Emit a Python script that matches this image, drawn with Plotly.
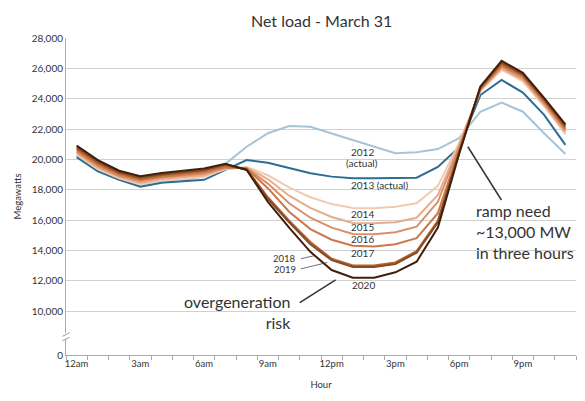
import plotly.graph_objects as go

hours = list(range(24))
hour_ticks = [0, 3, 6, 9, 12, 15, 18, 21]
hour_labels = ["12am", "3am", "6am", "9am", "12pm", "3pm", "6pm", "9pm"]

y_ticks = [7100, 10000, 12000, 14000, 16000, 18000, 20000, 22000, 24000, 26000, 28000]
y_labels = ["0", "10,000", "12,000", "14,000", "16,000", "18,000", "20,000",
            "22,000", "24,000", "26,000", "28,000"]

# net load, MW (hour 0 = 12am)
load_2012 = [20200, 19250, 18700, 18250, 18500, 18600, 18900, 19700, 20830, 21720, 22200, 22150,
             21700, 21250, 20830, 20400, 20460, 20680, 21400, 23140, 23740, 23140, 21720, 20350]
load_2013 = [20150, 19200, 18650, 18200, 18450, 18550, 18650, 19300, 19950, 19780, 19410, 19080,
             18860, 18750, 18750, 18770, 18790, 19500, 20800, 24240, 25230, 24400, 22930, 20950]
load_2014 = [20300, 19350, 18750, 18350, 18600, 18700, 18850, 19350, 19500, 18950, 18150, 17500,
             17050, 16800, 16780, 16880, 17100, 18250, 21100, 24500, 25900, 25150, 23500, 21650]
load_2015 = [20400, 19450, 18850, 18450, 18700, 18800, 18950, 19400, 19450, 18700, 17600, 16800,
             16200, 15800, 15780, 15850, 16150, 17650, 20950, 24550, 26000, 25250, 23600, 21800]
load_2016 = [20500, 19550, 18900, 18550, 18800, 18900, 19050, 19450, 19420, 18400, 17100, 16150,
             15500, 15080, 15060, 15190, 15560, 17200, 20800, 24600, 26100, 25350, 23700, 21900]
load_2017 = [20600, 19650, 19000, 18650, 18850, 19000, 19150, 19500, 19400, 18100, 16550, 15400,
             14700, 14300, 14250, 14400, 14800, 16450, 20650, 24650, 26200, 25450, 23800, 22000]
load_2018 = [20700, 19750, 19100, 18700, 18950, 19100, 19250, 19600, 19350, 17500, 15950, 14550,
             13450, 13000, 13000, 13200, 13950, 15950, 20500, 24700, 26300, 25550, 23900, 22100]
load_2019 = [20800, 19850, 19150, 18800, 19000, 19150, 19300, 19650, 19330, 17400, 15850, 14400,
             13350, 12900, 12900, 13100, 13850, 15850, 20450, 24750, 26400, 25600, 23950, 22200]
load_2020 = [20900, 19950, 19250, 18880, 19100, 19250, 19400, 19700, 19300, 17200, 15500, 13900,
             12700, 12200, 12200, 12550, 13250, 15500, 20350, 24800, 26500, 25700, 24050, 22300]

series = [
    ("2012", load_2012, "#a7c3d6"),
    ("2013", load_2013, "#2b6e94"),
    ("2014", load_2014, "#f0cbb1"),
    ("2015", load_2015, "#e6ad8c"),
    ("2016", load_2016, "#d98f69"),
    ("2017", load_2017, "#c97849"),
    ("2018", load_2018, "#b0622f"),
    ("2019", load_2019, "#8a4a22"),
    ("2020", load_2020, "#3f1f0c"),
]

fig = go.Figure()
for name, vals, col in series:
    fig.add_trace(go.Scatter(x=hours, y=vals, mode="lines", name=name,
                             line=dict(color=col, width=2)))

txt = "#333333"
font = "Lato"


def label(x, y, text, size=10, **kw):
    fig.add_annotation(x=x, y=y, text=text, showarrow=False,
                       font=dict(family=font, size=size, color=txt), **kw)


label(13.43, 20505, "2012")
label(13.43, 19740, "(actual)")
label(14.27, 18310, "2013 (actual)")
label(13.46, 16400, "2014")
label(13.46, 15520, "2015")
label(13.46, 14730, "2016")
label(13.46, 13810, "2017")
label(13.48, 11720, "2020")
label(9.8, 13450, "2018", size=9.5, borderpad=0)
label(9.8, 12740, "2019", size=9.5, borderpad=0)
label(10.2, 9950, "overgeneration<br>risk", size=16, xanchor="right", align="right")
label(18.68, 15230, "ramp need<br>~13,000 MW<br>in three hours", size=16,
      xanchor="left", align="left")

# title sits above the plot area
fig.add_annotation(x=0.5, y=(355 - 21) / 317, xref="paper", yref="paper", yanchor="middle",
                   text="Net load - March 31", showarrow=False,
                   font=dict(family=font, size=16, color=txt))

# leader lines
leaders = [
    (10.50, 10550, 12.19, 12050, 1.5),
    (18.41, 20830, 19.99, 17320, 1.5),
    (10.55, 13450, 11.20, 13650, 0.7),
    (10.55, 12780, 11.80, 13200, 0.7),
]
for x0, y0, x1, y1, w in leaders:
    fig.add_shape(type="line", x0=x0, y0=y0, x1=x1, y1=y1,
                  line=dict(color="#333333", width=w))

# axis break marks
fig.add_shape(type="rect", xref="paper", yref="y", x0=-0.008, x1=0.008, y0=8150, y1=8550,
              fillcolor="white", line=dict(width=0), layer="above")
for yb in (8150, 8450):
    fig.add_shape(type="line", xref="paper", yref="y", x0=-0.007, x1=0.007,
                  y0=yb - 120, y1=yb + 120, line=dict(color="#999999", width=1), layer="above")

# page has an 8px body margin, so the figure is shrunk by that much
fig.update_layout(
    width=577, height=393,
    margin=dict(l=53, r=9, t=30, b=46),
    plot_bgcolor="white", paper_bgcolor="white",
    showlegend=False,
    font=dict(family=font, color=txt),
    xaxis=dict(range=[-0.5, 23.5], tickvals=hour_ticks, ticktext=hour_labels, ticks="",
               showgrid=False, zeroline=False, showline=True, linecolor="#aaaaaa", linewidth=1,
               tickfont=dict(size=9.5, color=txt),
               minor=dict(tick0=-0.5, dtick=1, ticks="outside", ticklen=4, tickcolor="#aaaaaa",
                          showgrid=False),
               title=dict(text="Hour", font=dict(size=9.5, color=txt), standoff=12)),
    yaxis=dict(range=[7100, 28000], tickvals=y_ticks, ticktext=y_labels, ticks="",
               showgrid=True, gridcolor="#d0d0d0", gridwidth=1, zeroline=False,
               showline=True, linecolor="#aaaaaa", linewidth=1,
               tickfont=dict(size=10, color=txt),
               title=dict(text="Megawatts", font=dict(size=9.5, color=txt), standoff=8)),
)

fig.write_html("out.html")
